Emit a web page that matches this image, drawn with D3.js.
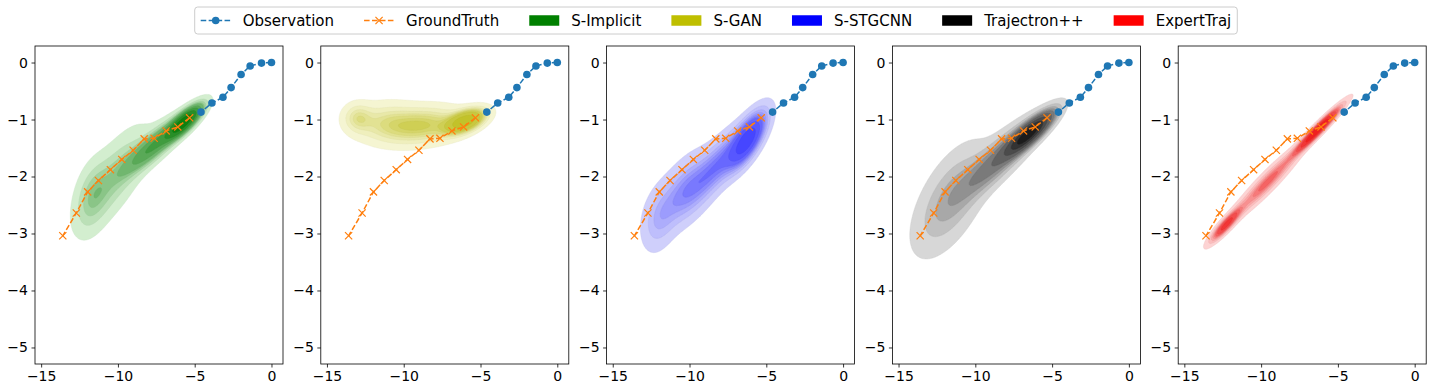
<!DOCTYPE html>
<html>
<head>
<meta charset="utf-8">
<script src="https://cdn.jsdelivr.net/npm/d3@7"></script>
<style>
  body { margin: 0; background: #fff; }
  svg text { font-family: "DejaVu Sans", sans-serif; fill: #000; }
</style>
</head>
<body>
<svg id="chart" width="1432" height="392"></svg>
<script>
// observed past positions
const obsX = [0, -0.65, -1.39, -1.98, -2.63, -3.16, -3.88, -4.59];
const obsY = [0, -0.01, -0.06, -0.21, -0.44, -0.61, -0.71, -0.87];

// ground truth future positions
const gtX = [-5.33, -6.10, -6.86, -7.64, -8.29, -9.01, -9.75, -10.49, -11.27, -11.97, -12.71, -13.59];
const gtY = [-0.97, -1.13, -1.20, -1.33, -1.34, -1.54, -1.70, -1.88, -2.07, -2.27, -2.64, -3.04];

// models and their colours
const models = ['S-Implicit', 'S-GAN', 'S-STGCNN', 'Trajectron++', 'ExpertTraj'];
const modelColors = ['#008000', '#bfbf00', '#0000ff', '#000000', '#ff0000'];
const lightColors = ['#d3eecf', '#f5f5d2', '#cfcffb', '#d7d7d7', '#fdd3d3'];
const darkColors = ['#0f800f', '#c2c22a', '#4646ff', '#1c1c1c', '#f02020'];

// predicted densities: [meanX, meanY, sdX, sdY, rho, weight]
const implicitBlobs = [
  [-5.7, -1.05, 0.7, 0.18, 0.8, 0.3],
  [-7.6, -1.45, 1.2, 0.3, 0.85, 0.3],
  [-10.2, -2.0, 1.3, 0.5, 0.7, 0.28],
  [-11.7, -2.35, 0.7, 0.38, 0.35, 0.12]
];
const sganBlobs = [
  [-6.0, -1.03, 0.8, 0.13, 0.5, 0.3],
  [-8.5, -1.1, 1.5, 0.2, 0.2, 0.35],
  [-11.0, -1.07, 1.4, 0.22, 0.0, 0.28],
  [-13.0, -0.97, 0.6, 0.16, 0.0, 0.07]
];
const stgcnnBlobs = [
  [-6.2, -1.35, 0.75, 0.3, 0.7, 0.35],
  [-8.0, -1.75, 1.1, 0.38, 0.75, 0.25],
  [-10.2, -2.25, 1.1, 0.38, 0.55, 0.3],
  [-12.0, -2.75, 0.7, 0.35, 0.3, 0.1]
];
const trajectronBlobs = [
  [-6.5, -1.25, 0.9, 0.22, 0.85, 0.4],
  [-8.5, -1.7, 1.5, 0.4, 0.85, 0.3],
  [-11.6, -2.4, 1.4, 0.55, 0.6, 0.3]
];
const expertBlobs = [
  [-6.3, -1.18, 0.95, 0.26, 0.96, 0.4],
  [-9.6, -2.1, 1.3, 0.36, 0.94, 0.4],
  [-12.3, -2.85, 0.65, 0.19, 0.9, 0.2]
];
const modelBlobs = [implicitBlobs, sganBlobs, stgcnnBlobs, trajectronBlobs, expertBlobs];

const xTicks = [-15, -10, -5, 0];
const yTicks = [0, -1, -2, -3, -4, -5];

const svg = d3.select('#chart');
const panelW = 248, panelH = 318, panelTop = 46;
const xDomain = [-15.4, 0.75], yDomain = [-5.29, 0.29];
const fmt = d3.format('');

// value of the gaussian mixture at a point
function density(blobs, x, y) {
  let s = 0;
  for (const [mx, my, sx, sy, r, w] of blobs) {
    const dx = (x - mx) / sx, dy = (y - my) / sy, q = 1 - r * r;
    s += w / (sx * sy * Math.sqrt(q)) * Math.exp(-(dx * dx - 2 * r * dx * dy + dy * dy) / (2 * q));
  }
  return s;
}

// seaborn style iso-proportion levels (thresh 0.05, 10 levels)
function isoLevels(values) {
  const sorted = Array.from(values).sort((a, b) => b - a);
  const total = d3.sum(sorted);
  const cum = [];
  let c = 0;
  sorted.forEach(v => { c += v; cum.push(c / total); });
  return d3.range(10).map(i => {
    const p = 0.05 + i * 0.95 / 9;
    const idx = Math.min(d3.bisectLeft(cum, 1 - p), sorted.length - 1);
    return sorted[idx];
  });
}

models.forEach((name, m) => {
  const left = 35 + m * 285.8;
  const x = d3.scaleLinear().domain(xDomain).range([0, panelW]);
  const y = d3.scaleLinear().domain(yDomain).range([panelH, 0]);

  const g = svg.append('g').attr('transform', `translate(${left},${panelTop})`);
  g.append('clipPath').attr('id', 'clip' + m)
    .append('rect').attr('width', panelW).attr('height', panelH);
  const plot = g.append('g').attr('clip-path', `url(#clip${m})`);

  // density grid
  const nx = 330, ny = 300;
  const gdx = (xDomain[1] - xDomain[0]) / nx, gdy = (yDomain[1] - yDomain[0]) / ny;
  const values = new Float64Array(nx * ny);
  for (let j = 0; j < ny; j++) {
    const yy = yDomain[1] - (j + 0.5) * gdy;
    for (let i = 0; i < nx; i++) {
      values[j * nx + i] = density(modelBlobs[m], xDomain[0] + (i + 0.5) * gdx, yy);
    }
  }
  const levels = isoLevels(values).slice(0, 9);
  const contours = d3.contours().size([nx, ny]).thresholds(levels)(values);
  const proj = d3.geoTransform({
    point: function(px, py) {
      this.stream.point(x(xDomain[0] + px * gdx), y(yDomain[1] - py * gdy));
    }
  });
  const path = d3.geoPath(proj);
  const shade = d3.interpolateRgb(lightColors[m], darkColors[m]);
  plot.selectAll('path.band')
    .data(contours)
    .join('path')
    .attr('class', 'band')
    .attr('d', path)
    .attr('fill', (d, i) => shade(i / 8))
    .attr('stroke', (d, i) => d3.color(shade(i / 8)).darker(0.15))
    .attr('stroke-width', 0.4);

  // observation and ground truth
  const obs = obsX.map((v, i) => [v, obsY[i]]);
  const gt = gtX.map((v, i) => [v, gtY[i]]);
  const line = d3.line().x(d => x(d[0])).y(d => y(d[1]));
  plot.append('path').attr('d', line(obs))
    .attr('fill', 'none').attr('stroke', '#1f77b4').attr('stroke-width', 1.5)
    .attr('stroke-dasharray', '5.55,2.4');
  plot.selectAll('circle.obs').data(obs).join('circle')
    .attr('class', 'obs')
    .attr('cx', d => x(d[0])).attr('cy', d => y(d[1])).attr('r', 3.8)
    .attr('fill', '#1f77b4');

  plot.append('path').attr('d', line(gt))
    .attr('fill', 'none').attr('stroke', '#ff7f0e').attr('stroke-width', 1.5)
    .attr('stroke-dasharray', '5.55,2.4');
  const k = 3.6;
  plot.selectAll('path.gt').data(gt).join('path')
    .attr('class', 'gt')
    .attr('d', d => `M${x(d[0]) - k},${y(d[1]) - k}L${x(d[0]) + k},${y(d[1]) + k}M${x(d[0]) - k},${y(d[1]) + k}L${x(d[0]) + k},${y(d[1]) - k}`)
    .attr('stroke', '#ff7f0e').attr('stroke-width', 1.2);

  // axes
  const xAxis = g.append('g').attr('transform', `translate(0,${panelH})`)
    .call(d3.axisBottom(x).tickValues(xTicks).tickFormat(fmt).tickSize(3.5).tickPadding(3.5));
  const yAxis = g.append('g')
    .call(d3.axisLeft(y).tickValues(yTicks).tickFormat(fmt).tickSize(3.5).tickPadding(3.5));
  [xAxis, yAxis].forEach(a => {
    a.select('.domain').remove();
    a.selectAll('line').attr('stroke', '#000').attr('stroke-width', 0.8);
    a.selectAll('text').attr('font-size', 14).attr('font-family', '"DejaVu Sans", sans-serif').attr('fill', '#000');
  });
  g.append('rect').attr('width', panelW).attr('height', panelH)
    .attr('fill', 'none').attr('stroke', '#000').attr('stroke-width', 0.8);
});

// legend
const legend = svg.append('g');
const fontSize = 15;
const handleLen = 30, textPad = 12, colSpace = 30, borderPad = 6;
const legendItems = [
  { label: 'Observation', kind: 'obs' },
  { label: 'GroundTruth', kind: 'gt' }
].concat(models.map((d, i) => ({ label: d, kind: 'patch', color: modelColors[i] })));

const cy = 20.5;
let cursor = 0;
const itemG = legend.append('g');
legendItems.forEach(item => {
  const ig = itemG.append('g').attr('transform', `translate(${cursor},0)`);
  if (item.kind === 'patch') {
    ig.append('rect').attr('x', 0).attr('y', cy - 5.25).attr('width', handleLen).attr('height', 10.5)
      .attr('fill', item.color);
  } else {
    const col = item.kind === 'obs' ? '#1f77b4' : '#ff7f0e';
    ig.append('line').attr('x1', 0).attr('x2', handleLen).attr('y1', cy).attr('y2', cy)
      .attr('stroke', col).attr('stroke-width', 1.5).attr('stroke-dasharray', '5.55,2.4');
    if (item.kind === 'obs') {
      ig.append('circle').attr('cx', handleLen / 2).attr('cy', cy).attr('r', 3.8).attr('fill', col);
    } else {
      ig.append('path').attr('d', `M11.4,${cy - 3.6}L18.6,${cy + 3.6}M11.4,${cy + 3.6}L18.6,${cy - 3.6}`)
        .attr('stroke', col).attr('stroke-width', 1.2);
    }
  }
  const t = ig.append('text').attr('x', handleLen + textPad).attr('y', cy).attr('dy', '0.36em')
    .attr('font-size', fontSize).text(item.label);
  cursor += handleLen + textPad + t.node().getComputedTextLength() + colSpace;
});
const innerW = cursor - colSpace;
const boxW = innerW + 2 * borderPad;
const boxX = (1432 - boxW) / 2;
legend.insert('rect', ':first-child')
  .attr('x', boxX).attr('y', 7).attr('width', boxW).attr('height', 27)
  .attr('rx', 3).attr('fill', '#fff').attr('stroke', '#cccccc').attr('stroke-width', 1);
itemG.attr('transform', `translate(${boxX + borderPad},0)`);
</script>
</body>
</html>
